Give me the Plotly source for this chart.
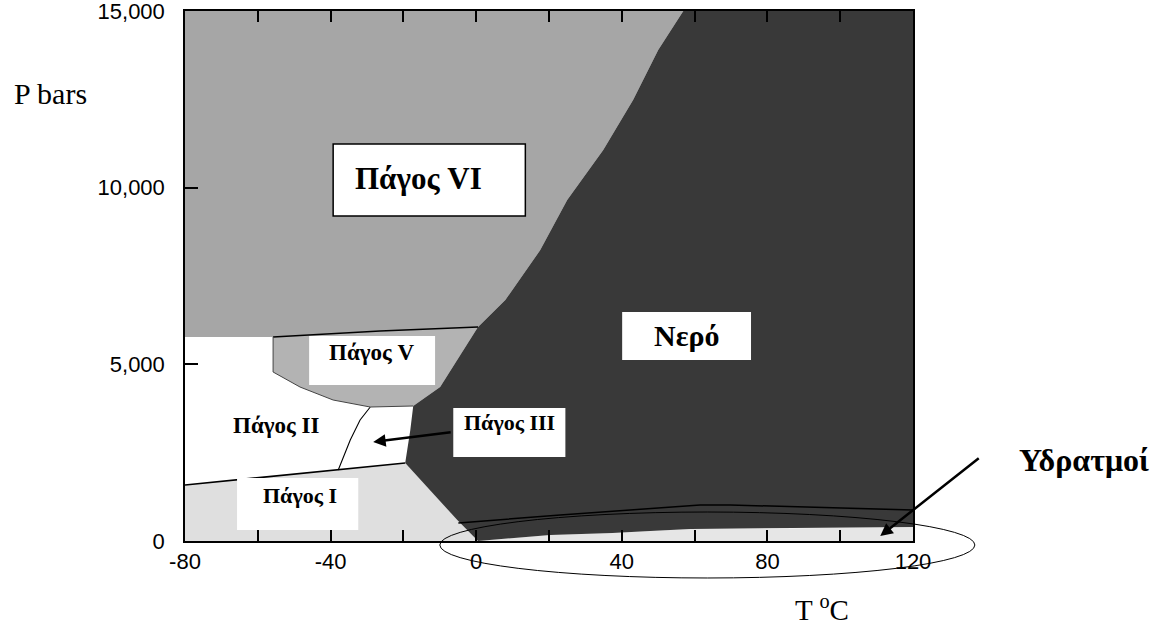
import plotly.graph_objects as go

# ---------------- data (T in degC, P in bar) ----------------
# Ice VI / liquid water boundary (bottom -> top)
T_vi_water = [0.5, 8.0, 17.6, 25.0, 34.9, 43.1, 50.0, 56.9]
P_vi_water = [6057, 6820, 8235, 9650, 11065, 12480, 13895, 15000]

# lower edge of Ice VI (left -> right)
T_vi_low = [-80, -55.8, -26.4, 0.5]
P_vi_low = [5773, 5773, 5943, 6057]

# Ice V / water boundary (top -> bottom)
T_v_water = [0.5, -9.9, -17.3]
P_v_water = [6057, 4358, 3821]

# lower edge of Ice V (left -> right)
T_v_low = [-55.8, -48.4, -39.3, -29.1, -17.3]
P_v_low = [4783, 4358, 3990, 3792, 3821]

# Ice III / water boundary (top -> bottom)
T_iii_water = [-17.3, -18.1, -19.5]
P_iii_water = [3821, 3141, 2207]

# Ice I / water boundary (top -> bottom)
T_i_water = [-19.5, -12.6, -5.2, 0.5]
P_i_water = [2207, 1443, 594, 0]

# upper edge of Ice I (left -> right)
T_i_top = [-80, -37.9, -19.5]
P_i_top = [1585, 2009, 2207]

# Ice II / Ice III boundary (bottom -> top)
T_ii_iii = [-37.9, -34.6, -31.9, -29.1]
P_ii_iii = [2009, 2858, 3424, 3792]

# liquid / vapour boundary (left -> right)
T_vap = [0.5, 6.9, 14.0, 20.3, 37.4, 47.8, 58.8, 72.5, 92.6, 120]
P_vap = [0, 57, 113, 170, 226, 283, 340, 340, 368, 396]

# line drawn inside the liquid region
T_wline = [-4.9, 23.1, 61.5, 69.8, 120]
P_wline = [509, 736, 1019, 1019, 877]

T_MIN, T_MAX = -80, 120
P_MIN, P_MAX = 0, 15000

x_tickvals = [-80, -60, -40, -20, 0, 20, 40, 60, 80, 100, 120]
x_ticktext = ["-80", "", "-40", "", "0", "", "40", "", "80", "", "120"]
y_tickvals = [0, 5000, 10000, 15000]
y_ticktext = ["0", "5,000", "10,000", "15,000"]

# ---------------- colours ----------------
C_VI = "#a6a6a6"
C_V = "#b3b3b3"
C_I = "#dfdfdf"
C_VAP = "#e6e6e6"
C_WATER = "#393939"

fig = go.Figure()


def poly(xs, ys, color):
    fig.add_trace(go.Scatter(x=xs, y=ys, mode="lines", fill="toself",
                             fillcolor=color, line=dict(width=0, color=color),
                             hoverinfo="skip", showlegend=False))


def line(xs, ys, color="black", width=1.5):
    fig.add_trace(go.Scatter(x=xs, y=ys, mode="lines",
                             line=dict(color=color, width=width),
                             hoverinfo="skip", showlegend=False))


# Ice VI
xs = T_vi_low + T_vi_water[1:] + [T_MIN]
ys = P_vi_low + P_vi_water[1:] + [P_MAX]
poly(xs, ys, C_VI)

# Ice V
xs = T_vi_low[1:] + T_v_water[1:] + T_v_low[::-1][1:]
ys = P_vi_low[1:] + P_v_water[1:] + P_v_low[::-1][1:]
poly(xs, ys, C_V)

# Ice I
xs = [T_MIN] + T_i_top + T_i_water[1:]
ys = [P_MIN] + P_i_top + P_i_water[1:]
poly(xs, ys, C_I)

# Vapour
xs = T_vap + [T_MAX]
ys = P_vap + [P_MIN]
poly(xs, ys, C_VAP)

# Liquid water
xs = ([T_vi_water[-1], T_MAX] + T_vap[::-1] + T_i_water[::-1][1:]
      + T_iii_water[::-1][1:] + T_v_water[::-1][1:] + T_vi_water[1:])
ys = ([P_MAX, P_MAX] + P_vap[::-1] + P_i_water[::-1][1:]
      + P_iii_water[::-1][1:] + P_v_water[::-1][1:] + P_vi_water[1:])
poly(xs, ys, C_WATER)

# boundary lines
line(T_vi_low[1:], P_vi_low[1:], "black", 1.6)
line(T_i_top, P_i_top, "black", 1.6)
line(T_ii_iii, P_ii_iii, "black", 1.1)
line([T_v_low[0], T_v_low[0]] + T_v_low[1:],
     [P_vi_low[1], P_v_low[0]] + P_v_low[1:], "#444444", 1.0)
line(T_wline, P_wline, "black", 1.5)

# ---------------- label boxes ----------------
boxes = [
    # (T0, T1, P0, P1, border)
    (-39.3, 13.5, 9198, 11235, True),
    (-45.9, -11.3, 4415, 5802, False),
    (40.1, 75.5, 5122, 6481, False),
    (-6.3, 24.5, 2377, 3764, False),
    (-65.7, -32.4, 311, 1783, False),
]
for t0, t1, p0, p1, border in boxes:
    fig.add_shape(type="rect", xref="x", yref="y", x0=t0, x1=t1, y0=p0, y1=p1,
                  fillcolor="white",
                  line=dict(color="black" if border else "white",
                            width=1.5 if border else 0),
                  layer="above")

serif = "Liberation Serif, Times New Roman, serif"
labels = [
    ("Πάγος VI", -15.9, 10273, 31),
    ("Πάγος V", -28.8, 5349, 23),
    ("Νερό", 58.0, 5830, 30),
    ("Πάγος III", 9.1, 3368, 22),
    ("Πάγος II", -54.9, 3283, 23),
    ("Πάγος I", -48.4, 1274, 22),
]
for txt, t, p, sz in labels:
    fig.add_annotation(x=t, y=p, xref="x", yref="y", text="<b>" + txt + "</b>",
                       showarrow=False, font=dict(family=serif, size=sz, color="black"))

# arrow to Ice III
fig.add_annotation(x=-28.3, y=2802, xref="x", yref="y", ax=79, ay=-10,
                   text="", showarrow=True, arrowhead=2, arrowsize=1,
                   arrowwidth=2.5, arrowcolor="black")

# vapour label + arrow
fig.add_annotation(x=1.1429, y=0.153, xref="paper", yref="paper",
                   xanchor="left", yanchor="middle",
                   text="<b>Υδρατμοί</b>", showarrow=False,
                   font=dict(family=serif, size=32, color="black"))
fig.add_annotation(x=111, y=141, xref="x", yref="y", ax=100, ay=-79,
                   text="", showarrow=True, arrowhead=2, arrowsize=1,
                   arrowwidth=2.5, arrowcolor="black")

# ellipse around vapour region
fig.add_shape(type="circle", xref="paper", yref="paper",
              x0=0.350, x1=1.085, y0=-0.0698, y1=0.0547,
              line=dict(color="black", width=1), fillcolor="rgba(0,0,0,0)",
              layer="above")

# axis titles
fig.add_annotation(x=-0.2376, y=0.845, xref="paper", yref="paper",
                   xanchor="left", yanchor="middle", text="P bars",
                   showarrow=False, font=dict(family=serif, size=30, color="black"))
fig.add_annotation(x=0.8352, y=-0.126, xref="paper", yref="paper",
                   xanchor="left", yanchor="middle", text="T <sup>o</sup>C",
                   showarrow=False, font=dict(family=serif, size=29, color="black"))

sans = "Liberation Sans, Arial, sans-serif"
fig.update_xaxes(range=[T_MIN, T_MAX], tickvals=x_tickvals, ticktext=x_ticktext,
                 ticks="inside", ticklen=11, tickwidth=1.5, tickcolor="black",
                 showline=True, linecolor="black", linewidth=1.5, mirror="ticks",
                 showgrid=False, zeroline=False, ticklabelstandoff=0,
                 automargin=False, ticklabeloverflow="allow",
                 tickfont=dict(family=sans, size=22, color="black"))
fig.update_yaxes(range=[P_MIN, P_MAX], tickvals=y_tickvals, ticktext=y_ticktext,
                 ticks="inside", ticklen=13, tickwidth=1.5, tickcolor="black",
                 showline=True, linecolor="black", linewidth=1.5, mirror=True,
                 showgrid=False, zeroline=False, ticklabelstandoff=14,
                 automargin=False, ticklabeloverflow="allow",
                 tickfont=dict(family=sans, size=22, color="black"))

fig.update_layout(width=1163, height=625,
                  margin=dict(l=185, r=250, t=11, b=84, autoexpand=False),
                  paper_bgcolor="white", plot_bgcolor="white",
                  showlegend=False)

fig.write_html("out.html")
